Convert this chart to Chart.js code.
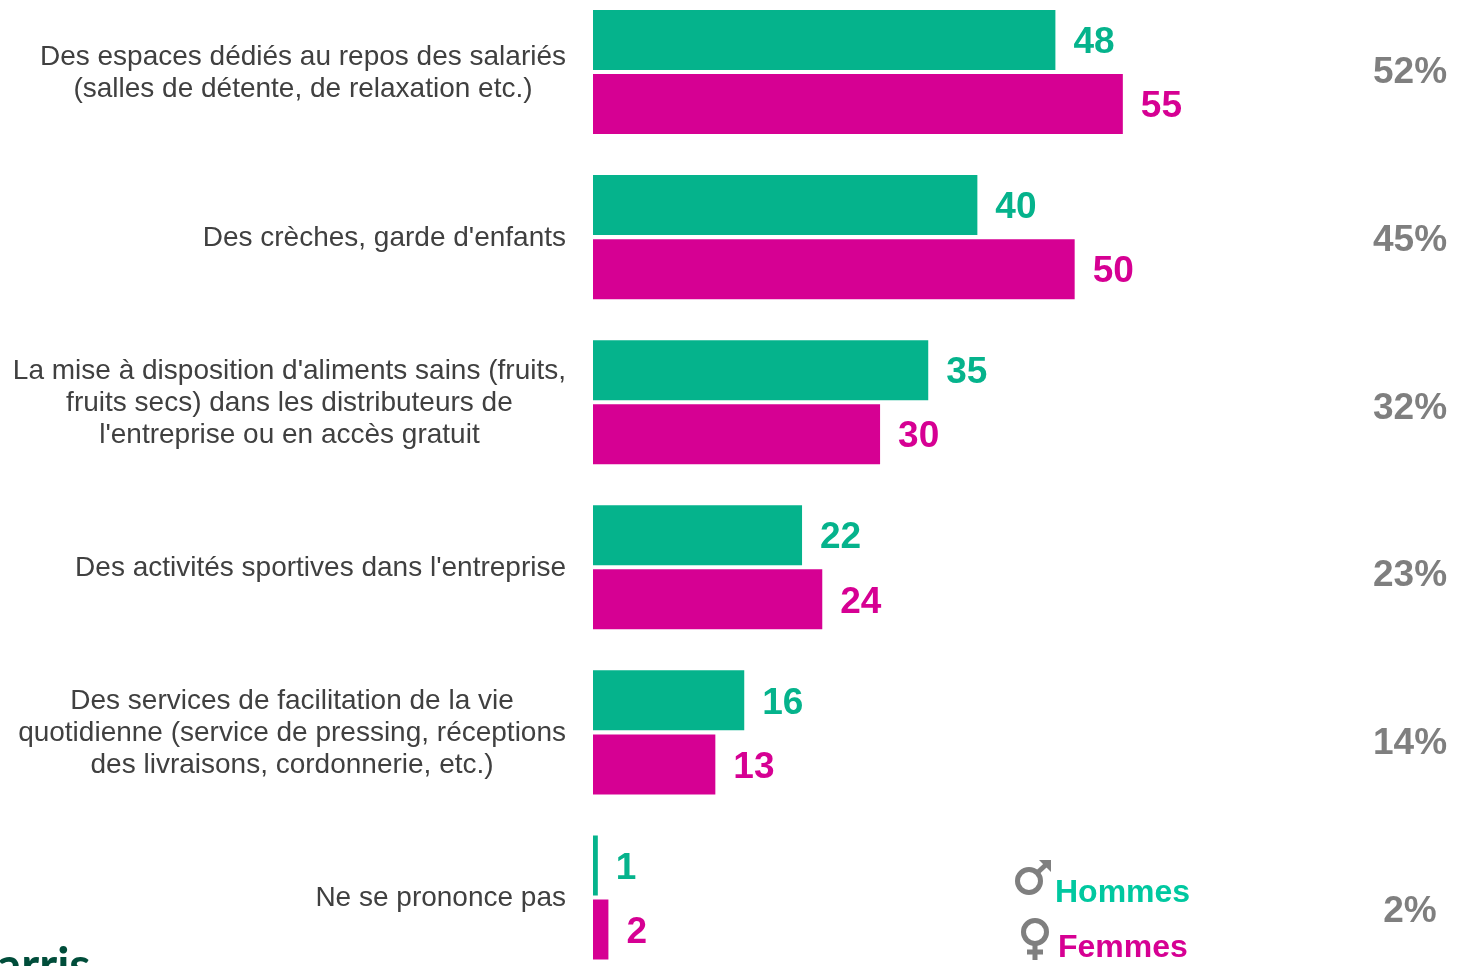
<!DOCTYPE html>
<html>
<head>
<meta charset="utf-8">
<title>Espaces et services en entreprise</title>
<script src="https://cdn.jsdelivr.net/npm/chart.js@4"></script>
<style>
html, body { margin: 0; padding: 0; width: 1460px; height: 966px; overflow: hidden; background: #fff; }
#graphique { position: absolute; left: 0; top: -11px; }
</style>
</head>
<body>
<canvas id="graphique" width="1460" height="991"></canvas>
<script>
var categories = [
	["Des espaces dédiés au repos des salariés", "(salles de détente, de relaxation etc.)"],
	["Des crèches, garde d'enfants"],
	["La mise à disposition d'aliments sains (fruits,", "fruits secs) dans les distributeurs de", "l'entreprise ou en accès gratuit"],
	["Des activités sportives dans l'entreprise"],
	["Des services de facilitation de la vie", "quotidienne (service de pressing, réceptions", "des livraisons, cordonnerie, etc.)"],
	["Ne se prononce pas"]
];
var hommes = [48, 39.9, 34.8, 21.7, 15.7, 0.5];
var femmes = [55, 50, 29.8, 23.8, 12.7, 1.6];
var ensemble = ["52%", "45%", "32%", "23%", "14%", "2%"];

var VERT = "#05b38c";
var MAGENTA = "#d60093";
var VERT_LEGENDE = "#00c8a0";
var GRIS = "#7f7f7f";
var POLICE = "'Liberation Sans', Arial, sans-serif";
var DECALAGE = 11; // le canvas commence 11px au dessus de la page

function dessineLibelles(chart)
{
	var ctx = chart.ctx;
	var x = chart.scales.x;
	var y = chart.scales.y;

	ctx.save();
	ctx.textBaseline = "middle";

	// libelles a gauche : lignes centrees entre elles, bloc cale a droite sur 566
	ctx.font = "28px " + POLICE;
	ctx.fillStyle = "#404040";
	ctx.textAlign = "center";
	for (var i = 0; i < categories.length; i++)
	{
		var lignes = categories[i];
		var largeur = 0;
		for (var j = 0; j < lignes.length; j++)
			largeur = Math.max(largeur, ctx.measureText(lignes[j]).width);
		var centre = 566 - largeur / 2;
		var cy = y.getPixelForTick(i) + 1;
		for (var k = 0; k < lignes.length; k++)
			ctx.fillText(lignes[k], centre, cy + (k - (lignes.length - 1) / 2) * 32);
	}

	// valeurs au bout des barres
	ctx.font = "bold 37px " + POLICE;
	ctx.textAlign = "left";
	chart.data.datasets.forEach(function (dataset, d) {
		var meta = chart.getDatasetMeta(d);
		ctx.fillStyle = dataset.backgroundColor;
		dataset.data.forEach(function (valeur, n) {
			ctx.fillText(Math.round(valeur), x.getPixelForValue(valeur) + 18, meta.data[n].y + 3);
		});
	});

	// colonne de droite
	ctx.fillStyle = GRIS;
	ctx.textAlign = "center";
	for (var p = 0; p < ensemble.length; p++)
		ctx.fillText(ensemble[p], 1410, y.getPixelForTick(p) + 1 + p * 2.6);

	// legende
	ctx.textAlign = "left";
	ctx.font = "bold 32px " + POLICE;
	ctx.fillStyle = VERT_LEGENDE;
	ctx.fillText("Hommes", 1055, 893 + DECALAGE);
	ctx.fillStyle = MAGENTA;
	ctx.fillText("Femmes", 1058, 948 + DECALAGE);

	// symboles
	ctx.strokeStyle = GRIS;
	ctx.lineWidth = 5;
	ctx.beginPath();
	ctx.arc(1029, 881 + DECALAGE, 11.5, 0, Math.PI * 2);
	ctx.stroke();
	ctx.beginPath();
	ctx.moveTo(1037, 873 + DECALAGE);
	ctx.lineTo(1049, 862 + DECALAGE);
	ctx.stroke();
	ctx.fillStyle = GRIS;
	ctx.beginPath();
	ctx.moveTo(1039, 860 + DECALAGE);
	ctx.lineTo(1051, 860 + DECALAGE);
	ctx.lineTo(1051, 872 + DECALAGE);
	ctx.closePath();
	ctx.fill();

	ctx.beginPath();
	ctx.arc(1035, 932 + DECALAGE, 11.5, 0, Math.PI * 2);
	ctx.stroke();
	ctx.beginPath();
	ctx.moveTo(1035, 944 + DECALAGE);
	ctx.lineTo(1035, 960 + DECALAGE);
	ctx.moveTo(1027, 952 + DECALAGE);
	ctx.lineTo(1043, 952 + DECALAGE);
	ctx.stroke();

	// logo coupe en bas de page
	ctx.font = "bold 48px Lato, " + POLICE;
	ctx.fillStyle = "#004d3a";
	ctx.textBaseline = "alphabetic";
	ctx.fillText("arris", -3, 982 + DECALAGE);

	ctx.restore();
}

new Chart(document.getElementById("graphique"), {
	type: "bar",
	data: {
		labels: categories,
		datasets: [
			{ label: "Hommes", data: hommes, backgroundColor: VERT },
			{ label: "Femmes", data: femmes, backgroundColor: MAGENTA }
		]
	},
	options: {
		indexAxis: "y",
		responsive: false,
		animation: false,
		categoryPercentage: 128 / 165,
		barPercentage: 60 / 64,
		layout: { padding: { left: 593, top: 0.5, right: 0, bottom: 0 } },
		plugins: { legend: { display: false }, tooltip: { enabled: false } },
		scales: {
			x: { display: false, min: 0, max: 90 },
			y: { display: false }
		}
	},
	plugins: [{ id: "libelles", afterDatasetsDraw: dessineLibelles }]
});
</script>
</body>
</html>
